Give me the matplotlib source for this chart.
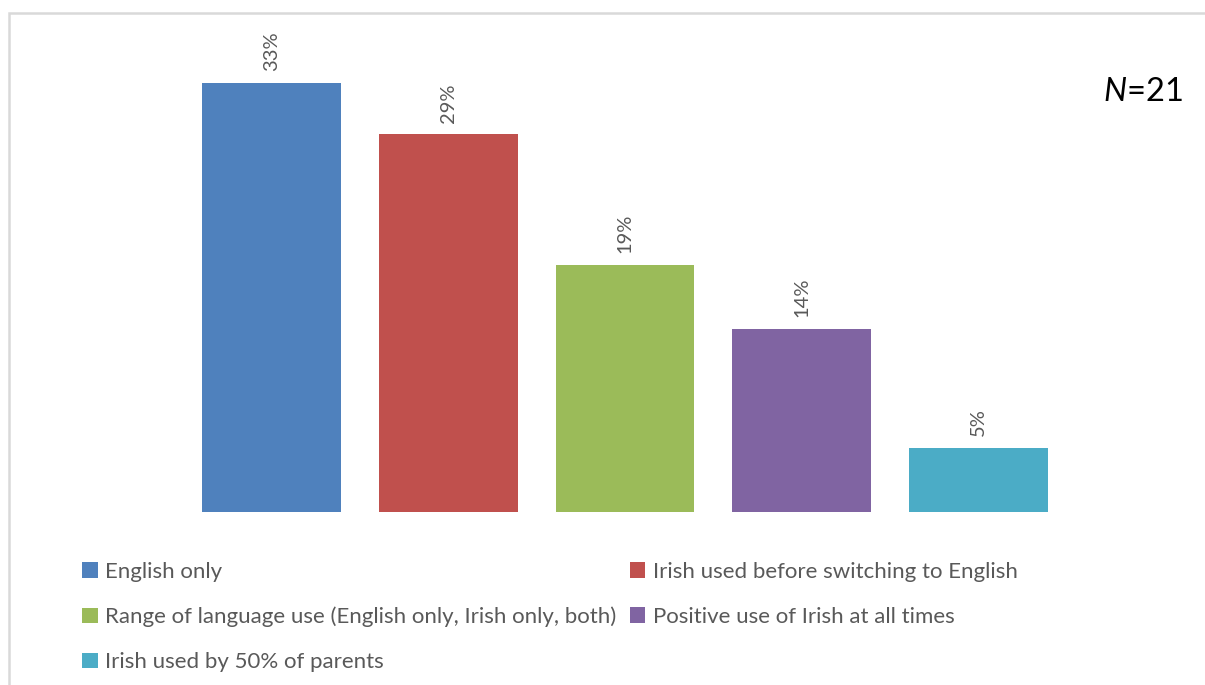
import matplotlib
matplotlib.use("Agg")
import matplotlib.pyplot as plt
from matplotlib.patches import Rectangle, Patch

plt.rcParams['font.family'] = ['Lato', 'DejaVu Sans']
plt.rcParams['mathtext.fontset'] = 'custom'
plt.rcParams['mathtext.it'] = 'Lato:italic'
plt.rcParams['mathtext.rm'] = 'Lato'

categories = [
    "English only",
    "Irish used before switching to English",
    "Range of language use (English only, Irish only, both)",
    "Positive use of Irish at all times",
    "Irish used by 50% of parents",
]
values = [33.3, 29.3, 19.2, 14.2, 5.0]
colors = ["#4F81BD", "#C0504D", "#9BBB59", "#8064A2", "#4BACC6"]
n_label = "$N$=21"

fig = plt.figure(figsize=(12.05, 6.85), dpi=100)

# light grey frame of the chart area
fig.patches.append(Rectangle((9 / 1205, -0.1), 1.2, 1 - 13 / 685 + 0.1,
                             transform=fig.transFigure, fill=False,
                             edgecolor="#D9D9D9", linewidth=1.8))

ax = fig.add_axes([183 / 1205, 173 / 685, 884 / 1205, 451 / 685])
x = range(len(values))
bars = ax.bar(x, values, width=0.785, color=colors)
for b, v in zip(bars, values):
    ax.text(b.get_x() + b.get_width() / 2, v + 0.9, f"{v:.0f}%",
            rotation=90, ha="center", va="bottom", fontsize=14.5,
            color="#595959", clip_on=False)

ax.set_xlim(-0.5, 4.5)
ax.set_ylim(0, 35)
ax.axis("off")

fig.text(1183 / 1205, 1 - 92 / 685, n_label, ha="right", va="center",
         fontsize=23.5, color="black")

order = [0, 2, 4, 1, 3]
handles = [Patch(facecolor=colors[i], label=categories[i]) for i in order]
leg = fig.legend(handles=handles, ncol=2, loc="upper left",
                 bbox_to_anchor=(82 / 1205, 1 - 562 / 685),
                 frameon=False, fontsize=16, handlelength=0.7,
                 handleheight=0.7, handletextpad=0.35, columnspacing=0.6,
                 labelspacing=1.12, borderaxespad=0, borderpad=0)
for t in leg.get_texts():
    t.set_color("#595959")

fig.savefig("out.png", dpi=100)
